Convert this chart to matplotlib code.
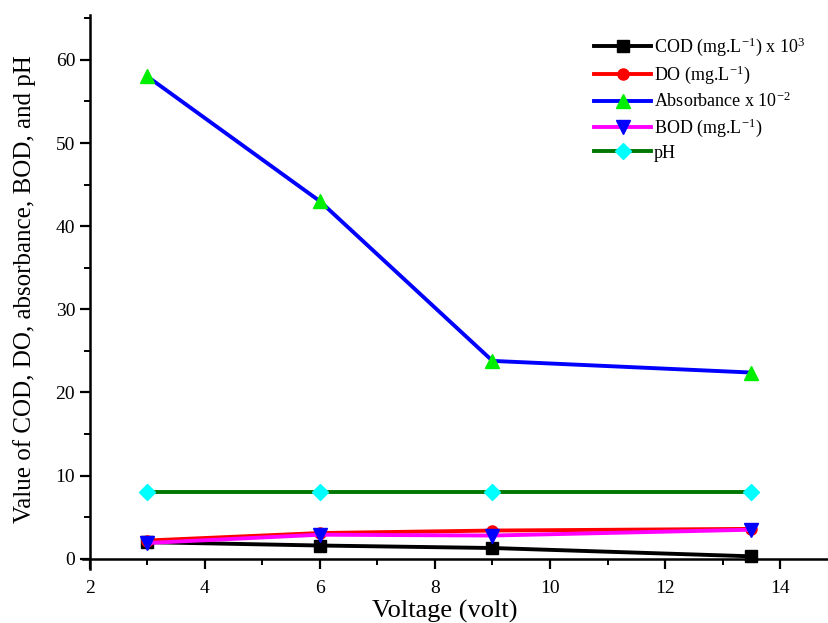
import matplotlib
matplotlib.use("Agg")
import matplotlib.pyplot as plt
from matplotlib.ticker import MultipleLocator

# --- Datos ---
voltage = [3, 6, 9, 13.5]
cod = [2.0, 1.6, 1.3, 0.3]
do = [2.2, 3.1, 3.4, 3.6]
absorbance = [58, 43, 23.8, 22.4]
bod = [1.9, 2.9, 2.8, 3.5]
ph = [8, 8, 8, 8]

plt.rcParams.update({
    "font.family": "serif",
    "font.serif": ["Liberation Serif", "DejaVu Serif"],
    "mathtext.fontset": "custom",
    "mathtext.rm": "Liberation Serif",
    "mathtext.it": "Liberation Serif:italic",
})

fig = plt.figure(figsize=(8.29, 6.23), dpi=100)
ax = fig.add_axes([0.100, 0.087, 0.90, 0.889])

lw = 2.8
ms = 9
ax.plot(voltage, cod, color="black", lw=lw, marker="s", ms=ms - 1,
        mfc="black", mec="black", label=r"COD (mg.L$^{-1}$) x 10$^{3}$", zorder=3)
ax.plot(voltage, do, color="red", lw=lw, marker="o", ms=ms - 1,
        mfc="red", mec="red", label=r"DO (mg.L$^{-1}$)", zorder=4)
ax.plot(voltage, absorbance, color="blue", lw=lw, marker="^", ms=ms + 1,
        mfc="#00ee00", mec="#00ee00", label=r"Absorbance x 10$^{-2}$", zorder=3)
ax.plot(voltage, bod, color="magenta", lw=lw, marker="v", ms=ms + 1,
        mfc="blue", mec="blue", label=r"BOD (mg.L$^{-1}$)", zorder=5)
ax.plot(voltage, ph, color="#007700", lw=lw, marker="D", ms=ms - 1,
        mfc="cyan", mec="cyan", label="pH", zorder=3)

ax.set_xlim(1.88, 14.85)
ax.set_ylim(-1.2, 65.4)
ax.spines["left"].set_position(("data", 2))
ax.spines["bottom"].set_position(("data", 0))
for lado in ("top", "right"):
    ax.spines[lado].set_visible(False)
for lado in ("left", "bottom"):
    ax.spines[lado].set_linewidth(1.8)

ax.xaxis.set_major_locator(MultipleLocator(2))
ax.xaxis.set_minor_locator(MultipleLocator(1))
ax.yaxis.set_major_locator(MultipleLocator(10))
ax.yaxis.set_minor_locator(MultipleLocator(5))
ax.set_xticks(range(2, 15, 2))
ax.set_yticks(range(0, 61, 10))
ax.tick_params(which="major", length=7, width=1.6, labelsize=14, direction="out")
ax.tick_params(axis="x", which="major", pad=8)
ax.tick_params(which="minor", length=4, width=1.4, direction="out")

ax.set_xlabel("Voltage (volt)", fontsize=19)
ax.set_ylabel("Value of COD, DO, absorbance, BOD, and pH", fontsize=18)
ax.xaxis.set_label_coords(0.485, -0.057)
ax.yaxis.set_label_coords(-0.063, 0.505)

ax.legend(loc="upper right", bbox_to_anchor=(0.985, 0.985), frameon=False,
          fontsize=13, handlelength=3.2, labelspacing=0.3, handletextpad=0.15,
          borderaxespad=0.3)

fig.savefig("out.png", dpi=100)
